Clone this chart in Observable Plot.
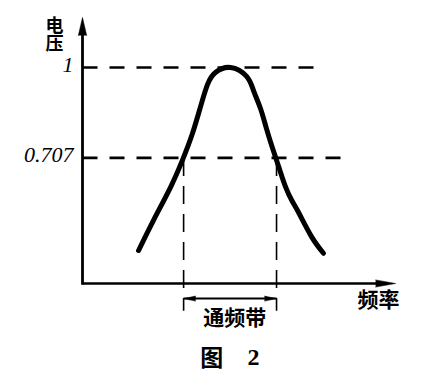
<!DOCTYPE html>
<html>
<head>
<meta charset="utf-8">
<script src="https://cdn.jsdelivr.net/npm/d3@7"></script>
<script src="https://cdn.jsdelivr.net/npm/@observablehq/plot@0.6"></script>
<style>
  html, body { margin: 0; padding: 0; background: #fff; }
  #chart svg { display: block; background: #fff; }
</style>
</head>
<body>
<div id="chart"></div>
<script>
// Resonance curve (schematic): frequency vs relative voltage
const freq    = [1.78, 2.25, 2.79, 3.17, 3.49, 3.75, 3.97, 4.22, 4.70, 5.21, 5.43, 5.65, 5.84, 6.06, 6.25, 6.44, 6.65, 6.86, 7.27, 7.65];
const voltage = [0.407, 0.504, 0.611, 0.699, 0.786, 0.874, 0.945, 0.984, 1.000, 0.971, 0.925, 0.867, 0.802, 0.730, 0.672, 0.615, 0.568, 0.530, 0.452, 0.398];

const levelValues = [1, 0.707];
const levelLabels = ["1", "0.707"];
const levelEnds   = [7.56, 8.5];

const bandEdges = [3.21, 6.16];     // passband edges at 0.707
const bandArrowY = 0.251;
const bandLineBottom = 0.212;

const axisOrigin = {x: 0, y: 0.3};
const xAxisEnd = 9.94;
const yAxisEnd = 1.162;

const yTitle = [{text: "电压", x: -0.89, y: 1.127}];
const labels = [
  {text: "频率",   x: 9.40, y: 0.245, size: 21},
  {text: "通频带", x: 4.83, y: 0.187, size: 21},
  {text: "图", x: 4.10, y: 0.057, size: 23},
];
const figNum = [{text: "2", x: 5.43, y: 0.06}];

const curve = freq.map((f, i) => ({f, v: voltage[i]}));
const levels = levelValues.map((v, i) => ({v, label: levelLabels[i], end: levelEnds[i]}));

const cjk = "'Noto Sans CJK SC', 'Noto Sans CJK JP', sans-serif";

const chart = Plot.plot({
  width: 426,
  height: 387,
  x: {domain: [0, 10], range: [82, 397], axis: null},
  y: {domain: [0.3, 1], range: [283, 67], axis: null},
  style: {background: "#fff"},
  marks: [
    // dashed reference levels
    Plot.link(levels, {x1: axisOrigin.x, x2: "end", y1: "v", y2: "v",
      stroke: "black", strokeWidth: 2.6, strokeDasharray: "15,12"}),
    // passband vertical dashed lines
    Plot.link(bandEdges, {x1: d => d, x2: d => d, y1: 0.707, y2: bandLineBottom,
      stroke: "black", strokeWidth: 1.6, strokeDasharray: "18,10"}),
    // passband double arrow
    Plot.link([bandEdges], {x1: d => d[0], x2: d => d[1], y1: bandArrowY, y2: bandArrowY,
      stroke: "black", strokeWidth: 2}),
    Plot.vector([{x: bandEdges[1], r: 90}, {x: bandEdges[0], r: -90}], {
      x: "x", y: bandArrowY, rotate: "r", length: 12, r: 2.5, shape: "spike",
      anchor: "end", fill: "black", stroke: "black", strokeWidth: 0.5}),
    // axes
    Plot.link([0], {x1: axisOrigin.x, x2: axisOrigin.x, y1: axisOrigin.y - 0.004, y2: yAxisEnd - 0.03,
      stroke: "black", strokeWidth: 2.8}),
    Plot.link([0], {x1: axisOrigin.x, x2: xAxisEnd - 0.3, y1: axisOrigin.y, y2: axisOrigin.y,
      stroke: "black", strokeWidth: 2.6}),
    Plot.vector([0], {x: axisOrigin.x, y: yAxisEnd, rotate: 0, length: 18, r: 4.2,
      shape: "spike", anchor: "end", fill: "black", stroke: "black", strokeWidth: 0.5}),
    Plot.vector([0], {x: xAxisEnd, y: axisOrigin.y, rotate: 90, length: 20, r: 3.6,
      shape: "spike", anchor: "end", fill: "black", stroke: "black", strokeWidth: 0.5}),
    // resonance curve
    Plot.line(curve, {x: "f", y: "v", curve: "natural", stroke: "black",
      strokeWidth: 5, strokeLinecap: "round", strokeLinejoin: "round"}),
    // tick labels
    Plot.text(levels, {x: axisOrigin.x, y: "v", text: "label", textAnchor: "end", dx: -9, dy: -3,
      fontFamily: "'Liberation Serif', serif", fontStyle: "italic", fontSize: 22, fill: "black"}),
    // vertical y-axis title
    Plot.text(yTitle, {x: "x", y: "y", text: "text", fontSize: 18, fontFamily: cjk,
      fontWeight: "bold", fill: "black"}),
    // labels
    Plot.text(labels, {x: "x", y: "y", text: "text", fontSize: d => d.size, fontFamily: cjk,
      fontWeight: "bold", fill: "black"}),
    Plot.text(figNum, {x: "x", y: "y", text: "text", fontSize: 24,
      fontFamily: "'Liberation Serif', serif", fontWeight: "bold", fill: "black"}),
  ]
});
// stack the y title vertically (as in the original)
d3.select(chart).selectAll("text").filter(function () { return this.textContent === "电压"; })
  .attr("dy", null)
  .style("writing-mode", "vertical-rl")
  .style("text-orientation", "upright")
  .attr("text-anchor", "middle");
document.getElementById("chart").append(chart);
</script>
</body>
</html>
